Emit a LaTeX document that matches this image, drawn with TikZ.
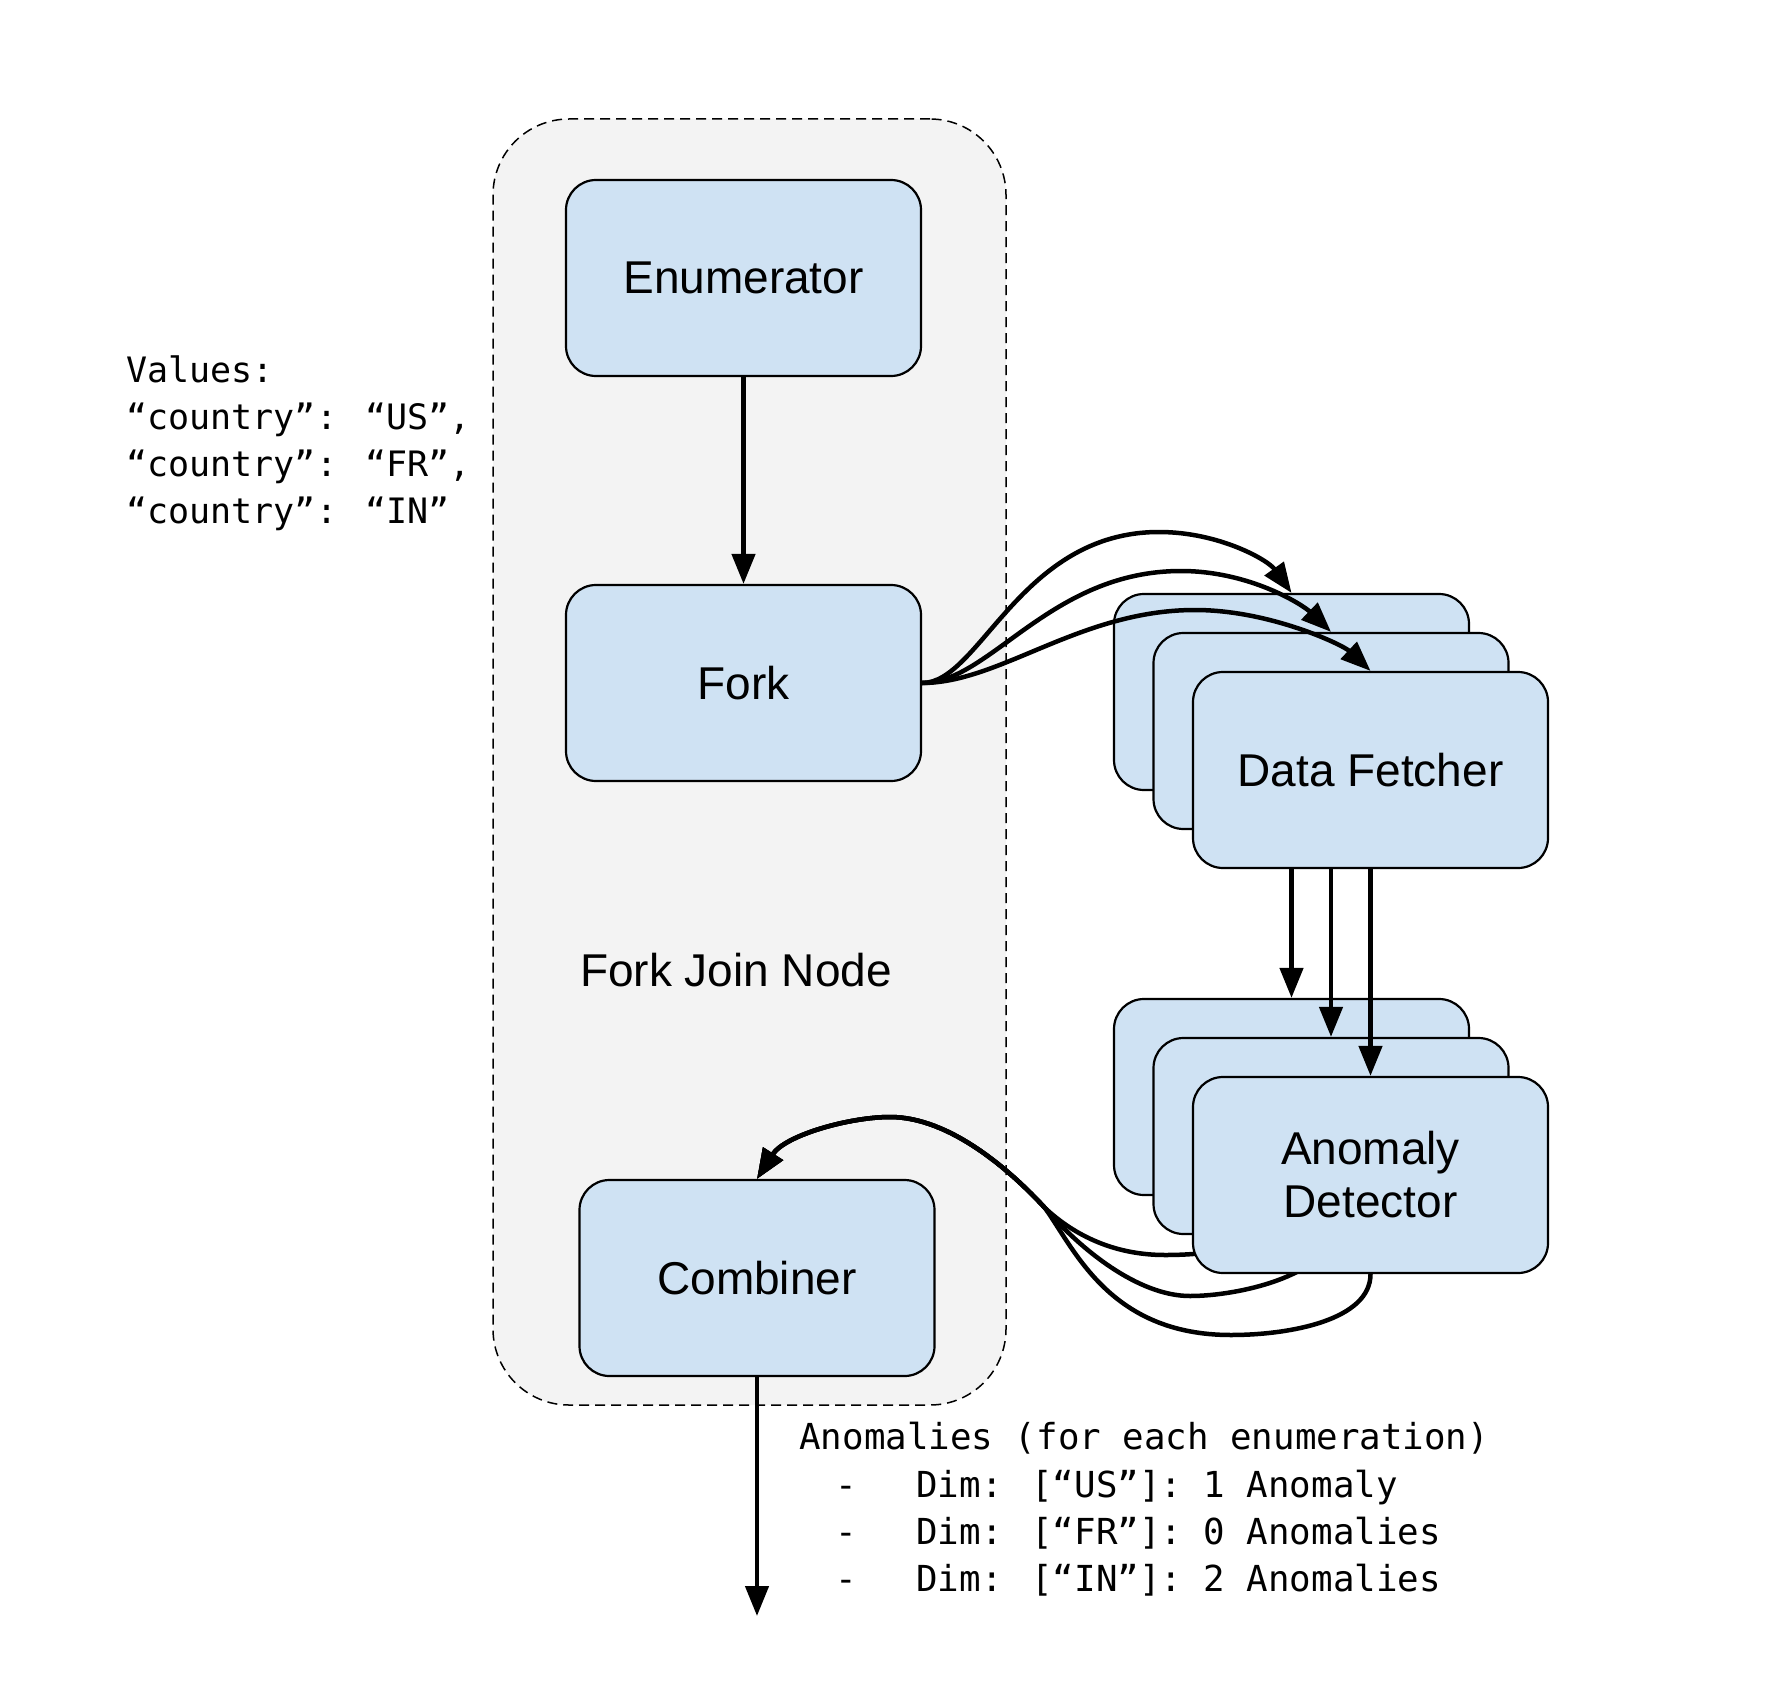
\documentclass[tikz,border=0pt]{standalone}
\usepackage{fontspec}
\setmainfont{Liberation Sans}
\newfontfamily\monofont{DejaVu Sans Mono}
\usetikzlibrary{arrows.meta}
\definecolor{boxblue}{HTML}{CFE2F3}
\definecolor{groupgrey}{HTML}{F3F3F3}
\tikzset{
  blockbox/.style={draw=black, fill=boxblue, line width=1.1pt, rounded corners=15pt,
    minimum width=177.5pt, minimum height=98pt, inner sep=0pt,
    font=\fontsize{23}{26.5}\selectfont, align=center},
  flow/.style={line width=2.25pt, -{Triangle[length=15pt,width=11.5pt]}},
  monotext/.style={anchor=base west, inner sep=0pt, font=\monofont\fontsize{17.9}{21.5}\selectfont},
  valuetext/.style={monotext, font=\monofont\fontsize{17.5}{21.5}\selectfont},
  groupbox/.style={draw=black, fill=groupgrey, line width=0.75pt, dash pattern=on 5pt off 3pt,
    rounded corners=38pt, minimum width=256.5pt, minimum height=643pt, inner sep=0pt},
  plainlabel/.style={inner sep=0pt, font=\fontsize{23}{26.5}\selectfont},
}
\begin{document}
\begin{tikzpicture}[x=0.5pt,y=-0.5pt]
\path[use as bounding box, fill=white] (0,0) rectangle (1788,1696);

% group container
\node[groupbox] (grp) at (749.5,762) {};
\node[plainlabel] (fjn) at (736,970) {Fork Join Node};

% main boxes
\node[blockbox] (enum) at (743.5,278) {Enumerator};
\node[blockbox] (fork) at (743.5,683) {Fork};
\node[blockbox] (comb) at (757,1278) {Combiner};

% data fetcher stack
\node[blockbox] (dfB) at (1291.5,692) {};
\node[blockbox] (dfM) at (1331,731) {};
\node[blockbox] (dfF) at (1370.5,770) {Data Fetcher};

% anomaly detector stack (back two first, curves behind front box)
\node[blockbox] (adB) at (1291.5,1097) {};
\node[blockbox] (adM) at (1331,1136) {};

\draw[flow] (adB.south) .. controls (1291.5,1240) and (1230,1255) .. (1165,1255)
  .. controls (1115,1255) and (1075,1236) .. (1045,1208)
  .. controls (1011,1171) and (950,1117) .. (890,1117)
  .. controls (850,1117) and (785,1135) .. (comb.north);
\draw[flow] (adM.south) .. controls (1325,1275) and (1240,1296) .. (1190,1296)
  .. controls (1138,1296) and (1080,1249) .. (1045,1208)
  .. controls (1011,1171) and (950,1117) .. (890,1117)
  .. controls (850,1117) and (785,1135) .. (comb.north);

\node[blockbox] (adF) at (1370.5,1175) {Anomaly\\Detector};

\draw[flow] (adF.south) .. controls (1370.5,1320) and (1290,1335) .. (1231,1335)
  .. controls (1110,1335) and (1075,1250) .. (1045,1208)
  .. controls (1011,1171) and (950,1117) .. (890,1117)
  .. controls (850,1117) and (785,1135) .. (comb.north);

% straight connectors
\draw[flow] (enum.south) -- (fork.north);
\draw[flow] (dfF.south -| adB.north) -- (adB.north);
\draw[flow] (dfF.south -| adM.north) -- (adM.north);
\draw[flow] (dfF.south) -- (adF.north);
\coordinate (outEnd) at (757,1616);
\draw[flow] (comb.south) -- (outEnd);

% fork to data fetchers
\draw[flow] (fork.east) .. controls (980,683) and (1020,532) .. (1159,532)
  .. controls (1219,532) and (1268,560) .. (dfB.north);
\draw[flow] (fork.east) .. controls (990,683) and (1050,571) .. (1181,571)
  .. controls (1250,571) and (1303,605) .. (dfM.north);
\draw[flow] (fork.east) .. controls (1000,683) and (1080,610) .. (1195,610)
  .. controls (1270,610) and (1343,645) .. (dfF.north);

% texts
\node[valuetext] (v1) at (126,382) {Values:};
\node[valuetext] (v2) at (126,429) {“country”: “US”,};
\node[valuetext] (v3) at (126,476) {“country”: “FR”,};
\node[valuetext] (v4) at (126,523) {“country”: “IN”};

\node[monotext] (a1) at (799,1449) {Anomalies (for each enumeration)};
\node[monotext] (a2) at (799,1497) {\makebox[47pt]{-}\hspace{11.5pt}Dim: [“US”]: 1 Anomaly};
\node[monotext] (a3) at (799,1544) {\makebox[47pt]{-}\hspace{11.5pt}Dim: [“FR”]: 0 Anomalies};
\node[monotext] (a4) at (799,1591) {\makebox[47pt]{-}\hspace{11.5pt}Dim: [“IN”]: 2 Anomalies};
\end{tikzpicture}
\end{document}
